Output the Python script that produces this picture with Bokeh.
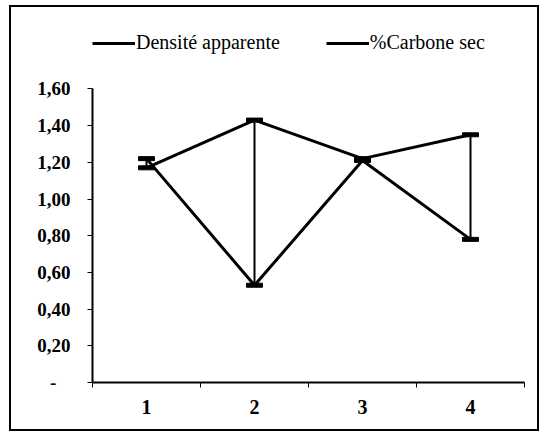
from bokeh.plotting import figure
from bokeh.models import Range1d, FixedTicker, Legend, LegendItem
from bokeh.embed import file_html
from bokeh.resources import INLINE

categories = [1, 2, 3, 4]
cat_labels = ["1", "2", "3", "4"]
densite = [1.17, 1.43, 1.22, 1.35]
carbone = [1.22, 0.53, 1.21, 0.78]
yticks = [0.0, 0.2, 0.4, 0.6, 0.8, 1.0, 1.2, 1.4, 1.6]
ytick_labels = ["-", "0,20", "0,40", "0,60", "0,80", "1,00", "1,20", "1,40", "1,60"]
series_names = ["Densité apparente", "%Carbone sec"]

FONT = "Liberation Serif"

p = figure(width=526, height=422, output_backend="svg", toolbar_location=None,
           x_range=Range1d(0.5, 4.5), y_range=Range1d(0, 2.0),
           min_border_left=81, min_border_top=8, min_border_right=13, min_border_bottom=47)
p.styles = {"margin-left": "11px", "margin-top": "7px", "outline": "2px solid black"}
p.xgrid.visible = False
p.ygrid.visible = False
p.outline_line_color = None
p.background_fill_color = "white"
p.border_fill_color = "white"

# high-low lines
p.segment(x0=categories, y0=densite, x1=categories, y1=carbone, line_color="black", line_width=2)
r1 = p.line(categories, densite, line_color="black", line_width=3)
r2 = p.line(categories, carbone, line_color="black", line_width=3)
for ys in (densite, carbone):
    p.rect(categories, ys, width=16, height=4, width_units="screen", height_units="screen",
           fill_color="black", line_color="black")

# axes
xa = p.xaxis[0]
xa.ticker = FixedTicker(ticks=categories, minor_ticks=[c - 0.5 for c in categories] + [categories[-1] + 0.5])
xa.major_label_overrides = {c: l for c, l in zip(categories, cat_labels)}
xa.major_tick_out = 0
xa.major_tick_in = 0
xa.minor_tick_out = 5
xa.minor_tick_in = 0
xa.minor_tick_line_color = "black"
xa.minor_tick_line_width = 1
xa.axis_line_width = 2
xa.axis_line_color = "black"
xa.major_label_standoff = 12
xa.major_label_text_font = FONT
xa.major_label_text_font_size = "20px"
xa.major_label_text_font_style = "bold"
xa.major_label_text_color = "black"

ya = p.yaxis[0]
ya.bounds = (yticks[0], yticks[-1])
ya.ticker = FixedTicker(ticks=yticks, minor_ticks=[])
labels = list(ytick_labels)
labels[0] = labels[0] + "\u00a0" * 3
ya.major_label_overrides = {t: l for t, l in zip(yticks, labels)}
ya.major_tick_out = 5
ya.major_tick_in = 0
ya.major_tick_line_width = 1
ya.axis_line_width = 2
ya.axis_line_color = "black"
ya.major_label_standoff = 17
ya.major_label_text_font = FONT
ya.major_label_text_font_size = "19px"
ya.major_label_text_font_style = "bold"
ya.major_label_text_color = "black"

legend = Legend(items=[LegendItem(label=series_names[0], renderers=[r1]),
                       LegendItem(label=series_names[1], renderers=[r2])],
                location=(0, 328), orientation="horizontal",
                glyph_width=43, glyph_height=20, label_standoff=1, spacing=46,
                padding=0, margin=0, border_line_color=None, background_fill_alpha=0,
                label_text_font=FONT, label_text_font_size="20px", label_text_color="black")
p.add_layout(legend, "center")

open("out.html", "w").write(file_html(p, INLINE))
